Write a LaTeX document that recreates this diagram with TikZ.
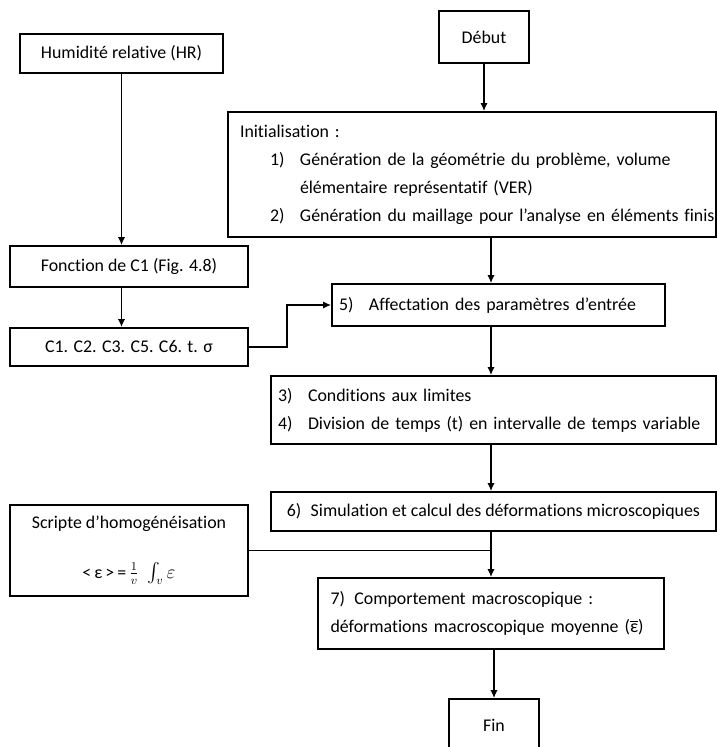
\documentclass[tikz,border=0pt]{standalone}
\usepackage{amsmath}
\usepackage{fontspec}
\setmainfont{Carlito}[Ligatures=NoCommon]
\usetikzlibrary{arrows.meta,calc}

\begin{document}
\begin{tikzpicture}[x=0.75pt, y=-0.75pt, >={Latex[length=6pt,width=5.5pt]}, line width=1.3pt,
		every node/.style={font=\fontsize{13.4}{21}\selectfont},
		box/.style n args={2}{draw, minimum width=#1*0.75pt, minimum height=#2*0.75pt}]
		
		\useasboundingbox (0,0) rectangle (717,747);
		
		% =========================================================
		% Left column: humidity -> parameters
		% =========================================================
		\node[box={203}{39}] (hr) at (121.5,53.5) {Humidité relative (HR)};
		\node[box={238}{41}] (fonction) at (129,266.5) {Fonction de C1 (Fig. 4.8)};
		\node[box={238}{38}] (cparam) at (129,347) {C1. C2. C3. C5. C6. t. σ};
		
		% Homogenisation script
		\node[box={238}{91}, align=center] (script) at (129,550.5)
		{Scripte d’homogénéisation\\[16pt]
			<\,ε\,>\,=\,$\frac{1}{v}\;\int_{v}\varepsilon$};
		
		% =========================================================
		% Right column: main procedure
		% =========================================================
		\node[box={90}{52}] (debut) at (484,37) {Début};
		
		\node[box={488}{125}, inner xsep=9pt, text width=348pt, align=left] (init) at (472,174.5)
		{Initialisation :\\
			\hspace*{22.5pt}\makebox[22.5pt][l]{1)}\mbox{Génération de la géométrie du problème, volume}\\
			\hspace*{45pt}élémentaire représentatif (VER)\\
			\hspace*{22.5pt}\makebox[22.5pt][l]{2)}\mbox{Génération du maillage pour l’analyse en éléments finis}};
		
		\node[box={333}{42}, inner xsep=5.25pt, text width=239.25pt, align=left] (affect) at (498.5,305)
		{\makebox[22.5pt][l]{5)}\mbox{Affectation des paramètres d’entrée}};
		
		\node[box={445}{68}, inner xsep=5.25pt, text width=323.25pt, align=left] (cond) at (493.5,410)
		{\makebox[22.5pt][l]{3)}Conditions aux limites\\
			\makebox[22.5pt][l]{4)}\mbox{Division de temps (t) en intervalle de temps variable}};
		
		\node[box={445}{39}] (simul) at (493.5,511.5)
		{6)\hspace{7pt}Simulation et calcul des déformations microscopiques};
		
		\node[box={346}{71}, inner xsep=9.45pt, text width=240.6pt, align=left] (comport) at (491,613.5)
		{7)\hspace{7pt}Comportement macroscopique :\\
			\mbox{déformations macroscopique moyenne ($\overline{\mbox{ε}}$)}};
		
		\node[box={90}{52}] (fin) at (494,725) {Fin};
		
		% =========================================================
		% Connectors
		% =========================================================
		\draw[->] (hr) -- (hr.south |- fonction.north);
		\draw[->] (fonction.south -| hr.south) -- (cparam.north -| hr.south);
		\draw[->] (cparam.east) -- ++(38,0) |- (affect.west);
		
		\draw[->] (debut) -- (debut.south |- init.north);
		\draw[->] (init.south -| comport.north) -- (affect.north -| comport.north);
		\draw[->] (affect.south -| comport.north) -- (cond.north -| comport.north);
		\draw[->] (cond.south -| comport.north) -- (simul.north -| comport.north);
		\draw[->] (simul.south -| comport.north) -- (comport.north);
		\draw (script.east) -- (script.east -| comport.north);
		\draw[->] (comport.south -| fin.north) -- (fin.north);
		
	\end{tikzpicture}
\end{document}
